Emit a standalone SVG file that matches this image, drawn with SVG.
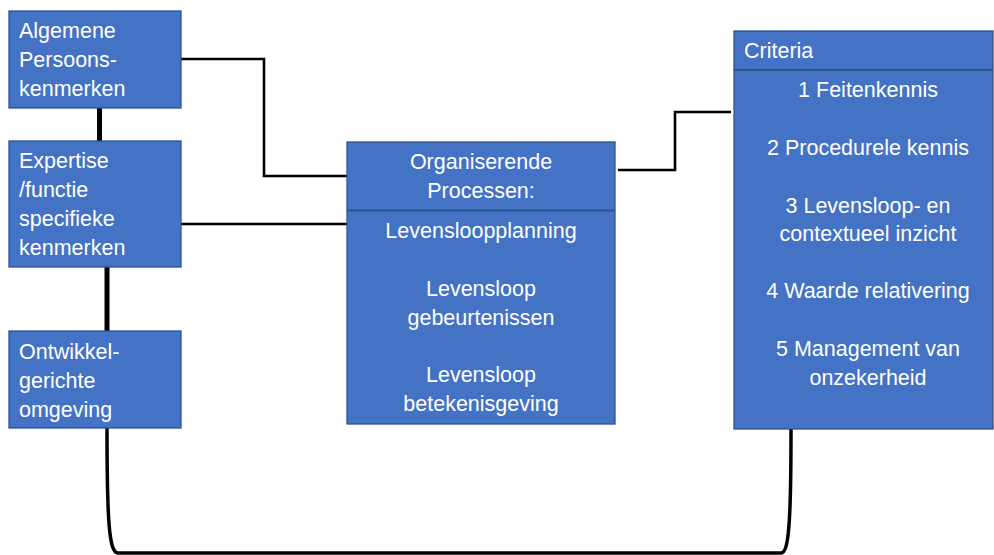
<svg xmlns="http://www.w3.org/2000/svg" width="994" height="555" viewBox="0 0 994 555">
<style>
.box{fill:#4472C4;stroke:#2F528F;stroke-width:1.3}
.div{stroke:#2F528F;stroke-width:2}
text{font-family:"Liberation Sans",Arial,sans-serif;font-size:21.5px;fill:#fff}
.c{text-anchor:middle}
.ln{fill:none;stroke:#000;stroke-width:2.6}
.thick{fill:none;stroke:#000;stroke-width:5}
.curve{fill:none;stroke:#000;stroke-width:3.5}
</style>
<g id="connectors">
<path class="thick" d="M99.5,108 V141"/>
<path class="thick" d="M107,267 V331"/>
<path class="curve" d="M107,428 C107,520 109,553 118,553 L781,553 C789,553 791,520 791,429"/>
<path class="ln" d="M181,59 H264 V176 H348"/>
<path class="ln" d="M181,224 H348"/>
<path class="ln" d="M618,170 H675 V112 H731"/>
</g>
<g id="algemene">
<rect class="box" x="9" y="11" width="172" height="97"/>
<text x="19" y="38">Algemene</text>
<text x="19" y="67">Persoons-</text>
<text x="19" y="96">kenmerken</text>
</g>
<g id="expertise">
<rect class="box" x="9" y="141" width="172" height="126"/>
<text x="19" y="168">Expertise</text>
<text x="19" y="197">/functie</text>
<text x="19" y="226">specifieke</text>
<text x="19" y="255">kenmerken</text>
</g>
<g id="ontwikkel">
<rect class="box" x="9" y="331" width="172" height="97"/>
<text x="19" y="359">Ontwikkel-</text>
<text x="19" y="388">gerichte</text>
<text x="19" y="417">omgeving</text>
</g>
<g id="processen">
<rect class="box" x="347" y="142" width="268" height="282"/>
<line class="div" x1="347" y1="210.5" x2="615" y2="210.5"/>
<text class="c" x="481" y="169">Organiserende</text>
<text class="c" x="481" y="198">Processen:</text>
<text class="c" x="481" y="238">Levensloopplanning</text>
<text class="c" x="481" y="296">Levensloop</text>
<text class="c" x="481" y="325">gebeurtenissen</text>
<text class="c" x="481" y="382">Levensloop</text>
<text class="c" x="481" y="411">betekenisgeving</text>
</g>
<g id="criteria">
<rect class="box" x="734" y="31" width="259" height="398"/>
<line class="div" x1="734" y1="70" x2="993" y2="70"/>
<text x="744" y="58">Criteria</text>
<text class="c" x="868" y="97">1 Feitenkennis</text>
<text class="c" x="868" y="155">2 Procedurele kennis</text>
<text class="c" x="868" y="213">3 Levensloop- en</text>
<text class="c" x="868" y="241">contextueel inzicht</text>
<text class="c" x="868" y="298">4 Waarde relativering</text>
<text class="c" x="868" y="356">5 Management van</text>
<text class="c" x="868" y="385">onzekerheid</text>
</g>
</svg>
